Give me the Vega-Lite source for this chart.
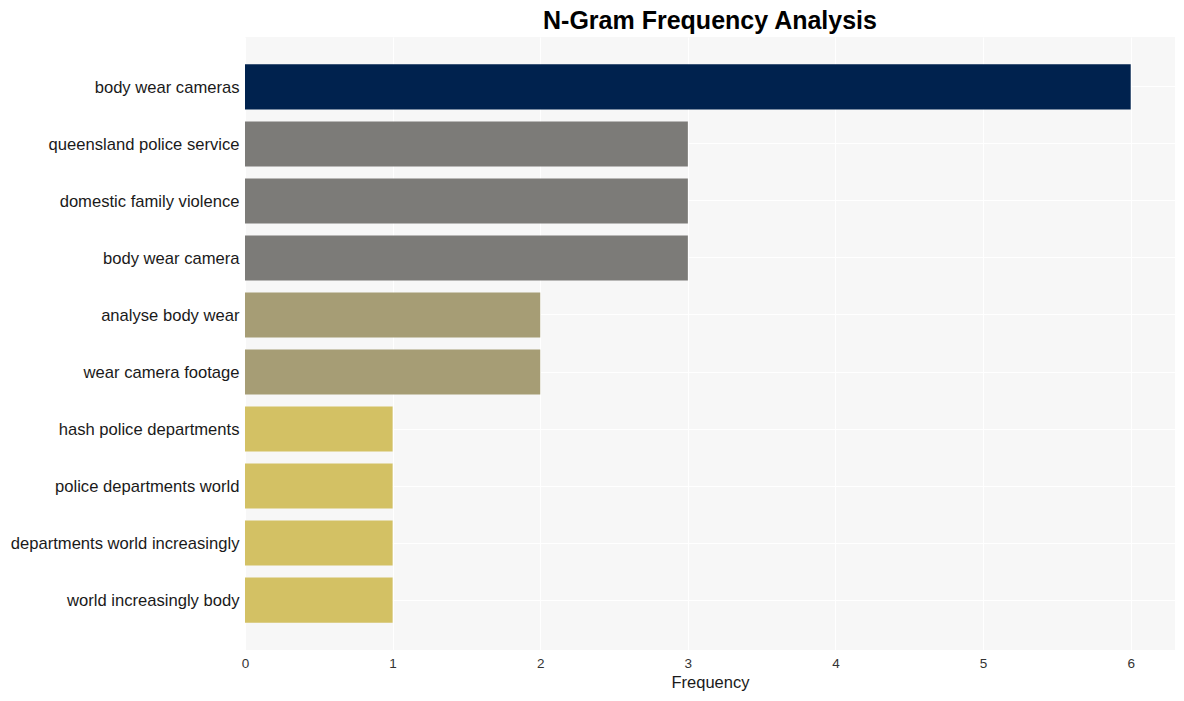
{
  "$schema": "https://vega.github.io/schema/vega-lite/v6.json",
  "width": 930,
  "height": 613,
  "autosize": {"type": "none"},
  "padding": {"left": 245, "top": 37, "right": 9, "bottom": 51},
  "background": "white",
  "title": {
    "text": "N-Gram Frequency Analysis",
    "anchor": "middle",
    "frame": "group",
    "font": "Liberation Sans",
    "fontSize": 25,
    "fontWeight": "bold",
    "color": "#000000",
    "offset": 3
  },
  "config": {
    "view": {"fill": "#F7F7F7", "stroke": null},
    "axis": {"domain": false, "ticks": false, "gridColor": "#FFFFFF", "gridWidth": 1.1}
  },
  "data": {
    "values": [
      {"ngram": "body wear cameras", "Frequency": 6},
      {"ngram": "queensland police service", "Frequency": 3},
      {"ngram": "domestic family violence", "Frequency": 3},
      {"ngram": "body wear camera", "Frequency": 3},
      {"ngram": "analyse body wear", "Frequency": 2},
      {"ngram": "wear camera footage", "Frequency": 2},
      {"ngram": "hash police departments", "Frequency": 1},
      {"ngram": "police departments world", "Frequency": 1},
      {"ngram": "departments world increasingly", "Frequency": 1},
      {"ngram": "world increasingly body", "Frequency": 1}
    ]
  },
  "mark": {"type": "bar"},
  "encoding": {
    "y": {
      "field": "ngram",
      "type": "nominal",
      "sort": null,
      "scale": {"paddingInner": 0.21, "paddingOuter": 0.48},
      "axis": {
        "title": null,
        "labelFont": "Liberation Sans",
        "labelFontSize": 16.6,
        "labelColor": "#1A1A1A",
        "labelPadding": 6,
        "labelOffset": 1,
        "grid": true,
        "bandPosition": 0.5,
        "labelLimit": 400
      }
    },
    "x": {
      "field": "Frequency",
      "type": "quantitative",
      "scale": {"domain": [0, 6.3], "nice": false},
      "axis": {
        "values": [0, 1, 2, 3, 4, 5, 6],
        "format": "d",
        "labelFlush": false,
        "labelFont": "Liberation Sans",
        "labelFontSize": 13.5,
        "labelColor": "#333333",
        "labelPadding": 6,
        "title": "Frequency",
        "titleFont": "Liberation Sans",
        "titleFontSize": 16.5,
        "titleFontWeight": "normal",
        "titleColor": "#1A1A1A",
        "titlePadding": 5
      }
    },
    "color": {
      "field": "Frequency",
      "type": "ordinal",
      "scale": {"domain": [1, 2, 3, 6], "range": ["#D3C164", "#A69D75", "#7C7B78", "#00224E"]},
      "legend": null
    }
  }
}
